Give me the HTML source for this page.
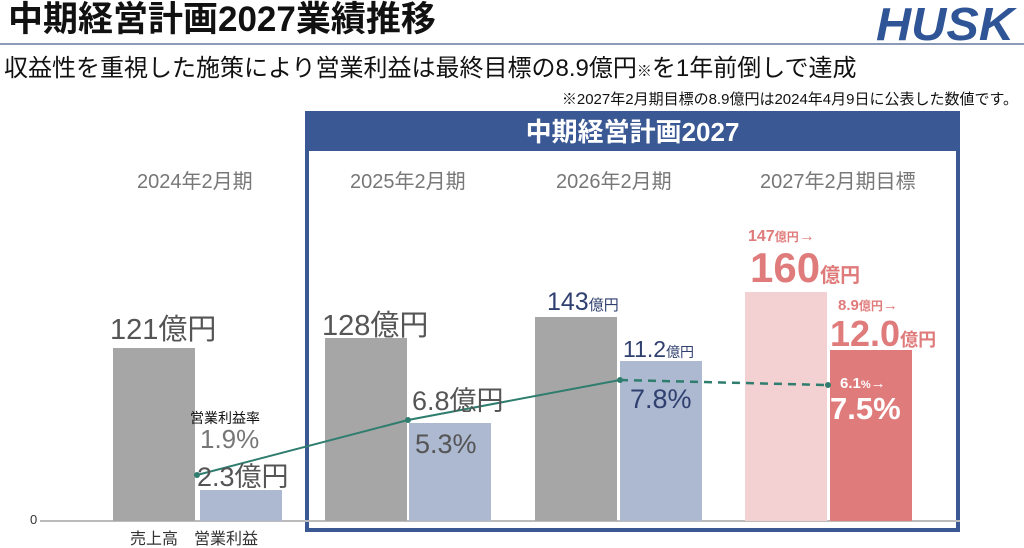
<!DOCTYPE html><html><head><meta charset="utf-8"><style>
body{margin:0;width:1024px;height:547px;overflow:hidden;background:#fff;font-family:"Liberation Sans","Noto Sans CJK JP",sans-serif;position:relative}
.a{position:absolute;white-space:nowrap;line-height:1}
</style></head><body>
<svg class="a" style="left:0;top:0" width="1024" height="547">
<line x1="0" y1="44" x2="1024" y2="44" stroke="#8a9ab8" stroke-width="2"/>
<rect x="307" y="113" width="651" height="417" fill="none" stroke="#3a5894" stroke-width="4"/>
<rect x="307" y="113" width="651" height="38" fill="#3a5894"/>
<line x1="40" y1="521" x2="960" y2="521" stroke="#bbb" stroke-width="2"/>
<rect x="113" y="348" width="82" height="173" fill="#a6a6a6"/>
<rect x="200" y="490" width="82" height="31" fill="#adb9d0"/>
<rect x="325" y="338" width="82" height="183" fill="#a6a6a6"/>
<rect x="409" y="423" width="82" height="98" fill="#adb9d0"/>
<rect x="535" y="317" width="82" height="204" fill="#a6a6a6"/>
<rect x="620" y="361" width="82" height="160" fill="#adb9d0"/>
<rect x="745" y="292" width="82" height="229" fill="#f3d0d1"/>
<rect x="830" y="350" width="82" height="171" fill="#e07b7b"/>
<polyline points="197,475 408,420 620,380" fill="none" stroke="#2e7d6e" stroke-width="2"/>
<line x1="620" y1="380" x2="826" y2="385" stroke="#2e7d6e" stroke-width="2.5" stroke-dasharray="8,6"/>
<circle cx="197" cy="475" r="3" fill="#2e7d6e"/><circle cx="408" cy="420" r="3" fill="#2e7d6e"/><circle cx="620" cy="380" r="3" fill="#2e7d6e"/><circle cx="828" cy="385" r="3" fill="#2e7d6e"/>
<text x="876" y="40" font-family="Liberation Sans" font-weight="bold" font-style="italic" font-size="46" fill="#2f5597" textLength="138" lengthAdjust="spacingAndGlyphs">HUSK</text>
</svg>
<div class="a" style="left:8px;top:2px;font-size:35px;font-weight:bold;color:#111">中期経営計画2027業績推移</div>
<div class="a" style="left:4px;top:57px;font-size:24px;color:#111">収益性を重視した施策により営業利益は最終目標の8.9億円<span style="font-size:15px">※</span>を1年前倒しで達成</div>
<div class="a" style="right:6px;top:92px;font-size:15px;color:#111">※2027年2月期目標の8.9億円は2024年4月9日に公表した数値です。</div>
<div class="a" style="left:307px;width:651px;top:119px;text-align:center;font-size:26px;font-weight:bold;color:#fff">中期経営計画2027</div>
<div class="a" style="left:137px;top:172px;font-size:20px;color:#777">2024年2月期</div>
<div class="a" style="left:350px;top:172px;font-size:20px;color:#777">2025年2月期</div>
<div class="a" style="left:556px;top:172px;font-size:20px;color:#777">2026年2月期</div>
<div class="a" style="left:760px;top:172px;font-size:20px;color:#777">2027年2月期目標</div>
<div class="a" style="left:30px;top:513px;font-size:13px;color:#333">0</div>
<div class="a" style="left:110px;top:316px;font-size:29px;color:#555">121億円</div>
<div class="a" style="left:322px;top:312px;font-size:29px;color:#555">128億円</div>
<div class="a" style="left:547px;top:290px;font-size:25px;color:#2f3f6f">143<span style="font-size:15px">億円</span></div>
<div class="a" style="left:623px;top:338px;font-size:23px;color:#2f3f6f">11.2<span style="font-size:14px">億円</span></div>
<div class="a" style="left:412px;top:388px;font-size:27px;color:#555">6.8億円</div>
<div class="a" style="left:415px;top:431px;font-size:27px;color:#555">5.3%</div>
<div class="a" style="left:630px;top:386px;font-size:27px;color:#2f3f6f">7.8%</div>
<div class="a" style="left:190px;top:411px;font-size:14px;color:#111">営業利益率</div>
<div class="a" style="left:200px;top:426px;font-size:26px;color:#777">1.9%</div>
<div class="a" style="left:197px;top:464px;font-size:27px;color:#555">2.3億円</div>
<div class="a" style="left:130px;top:532px;font-size:16px;color:#333">売上高　営業利益</div>
<div class="a" style="left:748px;top:229px;font-size:16px;font-weight:bold;color:#e07b7b">147<span style="font-size:12px">億円</span>→</div>
<div class="a" style="left:750px;top:247px;font-size:42px;font-weight:bold;color:#e07b7b">160<span style="font-size:20px">億円</span></div>
<div class="a" style="left:838px;top:298px;font-size:15px;font-weight:bold;color:#e07b7b">8.9<span style="font-size:12px">億円</span>→</div>
<div class="a" style="left:830px;top:316px;font-size:36px;font-weight:bold;color:#e07b7b">12.0<span style="font-size:18px">億円</span></div>
<div class="a" style="left:840px;top:376px;font-size:15px;font-weight:bold;color:#fff">6.1<span style="font-size:11px">%</span>→</div>
<div class="a" style="left:830px;top:393px;font-size:31px;font-weight:bold;color:#fff">7.5%</div>
</body></html>
